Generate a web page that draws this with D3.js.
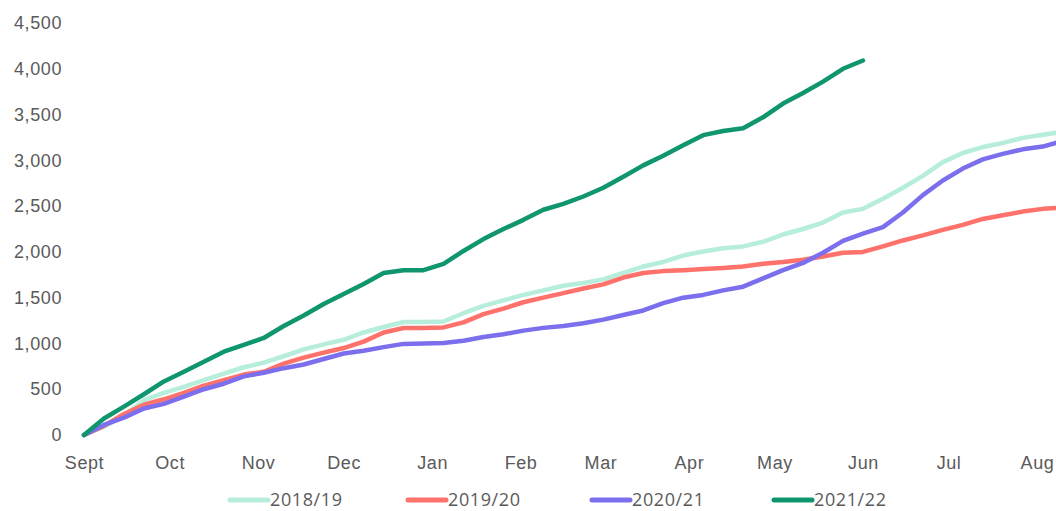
<!DOCTYPE html>
<html>
<head>
<meta charset="utf-8">
<script src="https://cdn.jsdelivr.net/npm/d3@7"></script>
<style>
  body { margin: 0; background: #fff; }
  svg { display: block; font-family: "Open Sans", sans-serif; }
  .tick text, .legend text { fill: #5a5a5a; font-size: 18px; letter-spacing: 0.6px; }
</style>
</head>
<body>
<svg id="chart"></svg>
<script>
// weekly cumulative totals, week 0 = 1 Sept
const seasons = ['2018/19', '2019/20', '2020/21', '2021/22']
const colors = ['#b6eedb', '#ff716b', '#7c6fee', '#10966f']

const s2018 = [0, 90, 210, 380, 460, 525, 600, 670, 740, 790, 860, 935, 990, 1040, 1120, 1180, 1234, 1234, 1240, 1330,
  1410, 1470, 1530, 1580, 1630, 1660, 1700, 1770, 1840, 1890, 1960, 2005, 2040, 2060, 2110, 2190, 2250, 2320, 2430, 2470,
  2580, 2700, 2830, 2980, 3080, 3145, 3190, 3245, 3280, 3310]
const s2019 = [0, 100, 230, 330, 390, 460, 540, 600, 660, 690, 780, 845, 900, 950, 1020, 1120, 1169, 1169, 1175, 1230,
  1320, 1380, 1450, 1500, 1550, 1600, 1645, 1720, 1770, 1790, 1800, 1813, 1825, 1840, 1870, 1889, 1915, 1950, 1990, 2000,
  2060, 2125, 2180, 2240, 2295, 2360, 2400, 2440, 2470, 2485]
const s2020 = [0, 110, 190, 290, 340, 420, 500, 560, 640, 680, 730, 770, 830, 890, 920, 960, 995, 1000, 1005, 1030,
  1070, 1100, 1140, 1170, 1190, 1220, 1260, 1310, 1360, 1440, 1500, 1530, 1580, 1620, 1710, 1800, 1880, 1990, 2120, 2200,
  2270, 2430, 2620, 2780, 2910, 3010, 3070, 3120, 3150, 3210]
const s2021 = [0, 180, 310, 445, 585, 690, 800, 910, 985, 1060, 1190, 1305, 1430, 1540, 1650, 1770, 1800, 1800, 1870, 2010,
  2140, 2250, 2350, 2460, 2525, 2605, 2700, 2820, 2945, 3050, 3165, 3275, 3320, 3350, 3470, 3620, 3735, 3860, 4000, 4090]

const yTicks = [0, 500, 1000, 1500, 2000, 2500, 3000, 3500, 4000, 4500]

const width = 1056
const height = 511
const start = new Date(2021, 8, 1)

const svg = d3.select('#chart').attr('width', width).attr('height', height)

const x = d3.scaleTime()
  .domain([start, new Date(2022, 7, 1)])
  .range([84, 1037])

const y = d3.scaleLinear()
  .domain([0, 4500])
  .range([435, 23])

const monthFmt = d3.timeFormat('%b')

// x axis (labels only)
svg.append('g')
  .attr('transform', 'translate(0,456)')
  .call(d3.axisBottom(x)
    .ticks(d3.timeMonth.every(1))
    .tickSize(0)
    .tickPadding(0)
    .tickFormat(d => d.getMonth() === 8 ? 'Sept' : monthFmt(d)))
  .call(g => g.select('.domain').remove())
  .selectAll('text').attr('dy', '0.71em')

// y axis (labels only)
svg.append('g')
  .attr('transform', 'translate(62,0)')
  .call(d3.axisLeft(y)
    .tickValues(yTicks)
    .tickSize(0)
    .tickPadding(0)
    .tickFormat(d3.format(',')))
  .call(g => g.select('.domain').remove())

const line = d3.line()
  .x((d, i) => x(d3.timeDay.offset(start, 7 * i)))
  .y(d => y(d))

const series = [s2018, s2019, s2020, s2021]

svg.append('g')
  .selectAll('path')
  .data(series)
  .join('path')
  .attr('d', line)
  .attr('fill', 'none')
  .attr('stroke', (d, i) => colors[i])
  .attr('stroke-width', 4.5)
  .attr('stroke-linejoin', 'round')
  .attr('stroke-linecap', 'round')

// legend
const legendX = [228, 406, 590, 772]
const legend = svg.append('g')
  .attr('class', 'legend')
  .selectAll('g')
  .data(seasons)
  .join('g')
  .attr('transform', (d, i) => `translate(${legendX[i]},500)`)

legend.append('line')
  .attr('x1', 2).attr('x2', 40)
  .attr('stroke', (d, i) => colors[i])
  .attr('stroke-width', 5)
  .attr('stroke-linecap', 'round')

legend.append('text')
  .attr('x', 42)
  .attr('dy', '0.35em')
  .text(d => d)
</script>
</body>
</html>
